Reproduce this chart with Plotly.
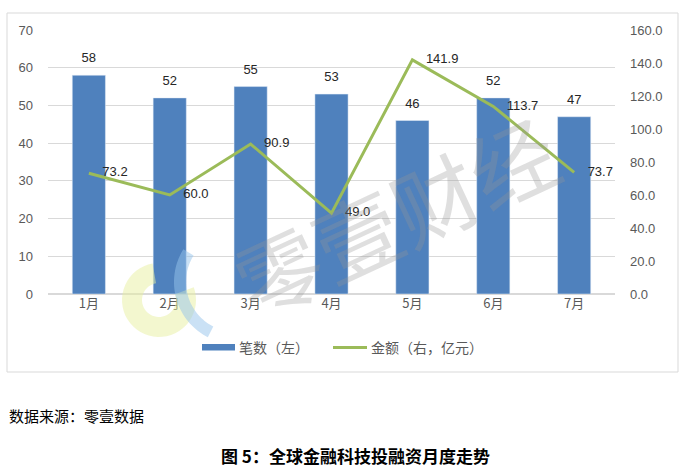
import math
import plotly.graph_objects as go

months = ["1月", "2月", "3月", "4月", "5月", "6月", "7月"]
counts = [58, 52, 55, 53, 46, 52, 47]
amounts = [73.2, 60.0, 90.9, 49.0, 141.9, 113.7, 73.7]
left_ticks = [0, 10, 20, 30, 40, 50, 60, 70]
right_ticks = [0, 20, 40, 60, 80, 100, 120, 140, 160]

FONT = "Liberation Sans, Noto Sans CJK SC, sans-serif"
CJK = "Noto Sans CJK SC"

# plot area geometry (pixels) used to place decorations in paper coords
L, R, T, B = 48, 615, 30, 294
W, H = R - L, B - T


def px(x):
    return (x - L) / W


def py(y):
    return (B - y) / H


def arc_band(cx, cy, r_in, r_out, a0, a1, n=40):
    pts = []
    for i in range(n + 1):
        a = math.radians(a0 + (a1 - a0) * i / n)
        pts.append((px(cx + r_out * math.cos(a)), py(cy + r_out * math.sin(a))))
    for i in range(n, -1, -1):
        a = math.radians(a0 + (a1 - a0) * i / n)
        pts.append((px(cx + r_in * math.cos(a)), py(cy + r_in * math.sin(a))))
    return "M " + " L ".join(f"{x:.4f} {y:.4f}" for x, y in pts) + " Z"


fig = go.Figure()
fig.add_trace(go.Bar(
    x=months, y=counts, name="笔数（左）",
    marker=dict(color="#4F81BD"), width=0.41,
    hoverinfo="x+y",
))
fig.add_trace(go.Scatter(
    x=months, y=counts, mode="markers+text", showlegend=False,
    marker=dict(size=14, color="rgba(0,0,0,0)"),
    text=[str(v) for v in counts], textposition="top center",
    textfont=dict(size=13, color="#262626", family=FONT),
    cliponaxis=False, hoverinfo="skip",
))
fig.add_trace(go.Scatter(
    x=months, y=amounts, name="金额（右，亿元）", yaxis="y2",
    mode="lines+markers+text", line=dict(color="#9BBB59", width=3),
    marker=dict(size=20, color="rgba(0,0,0,0)"),
    text=[f"{v:.1f}" for v in amounts], textposition="middle right",
    textfont=dict(size=13, color="#262626", family=FONT),
    cliponaxis=False,
))

# watermark
fig.add_annotation(text="零壹财经", xref="paper", yref="paper", x=px(395), y=py(215),
                   xanchor="center", yanchor="middle",
                   showarrow=False, textangle=-25,
                   font=dict(size=86, color="rgba(150,150,150,0.30)", family=CJK))
fig.add_shape(type="path", xref="paper", yref="paper",
              path=arc_band(159, 300, 17, 37, -20, 260),
              fillcolor="rgba(232,240,160,0.5)", line=dict(width=0), layer="above")
fig.add_shape(type="path", xref="paper", yref="paper",
              path=arc_band(236, 282, 50, 62, 117, 212),
              fillcolor="rgba(150,195,235,0.5)", line=dict(width=0), layer="above")

# chart border
fig.add_shape(type="rect", xref="paper", yref="paper",
              x0=px(7), x1=px(678), y0=py(372), y1=py(13),
              line=dict(color="#D9D9D9", width=1), fillcolor="rgba(0,0,0,0)", layer="below")

# legend (manual)
fig.add_shape(type="rect", xref="paper", yref="paper",
              x0=px(202), x1=px(235), y0=py(350.5), y1=py(344),
              fillcolor="#4F81BD", line=dict(width=0))
fig.add_shape(type="line", xref="paper", yref="paper",
              x0=px(333), x1=px(367), y0=py(347.5), y1=py(347.5),
              line=dict(color="#9BBB59", width=3))
fig.add_annotation(text="笔数（左）", xref="paper", yref="paper", x=px(237), y=py(347),
                   xanchor="left", yanchor="middle", showarrow=False,
                   font=dict(size=14, color="#595959", family=CJK))
fig.add_annotation(text="金额（右，亿元）", xref="paper", yref="paper", x=px(369), y=py(347),
                   xanchor="left", yanchor="middle", showarrow=False,
                   font=dict(size=14, color="#595959", family=CJK))

fig.add_annotation(text="数据来源：零壹数据", xref="paper", yref="paper",
                   x=px(7), y=py(415), xanchor="left", yanchor="middle", showarrow=False,
                   font=dict(size=15, color="#000000", family=CJK))
fig.add_annotation(text="<b>图 5：全球金融科技投融资月度走势</b>", xref="paper", yref="paper",
                   x=px(355), y=py(455), xanchor="center", yanchor="middle", showarrow=False,
                   font=dict(size=17, color="#000000", family=CJK))

fig.update_layout(
    width=689, height=470,
    margin=dict(l=L, r=689 - R, t=T, b=470 - B, autoexpand=False),
    paper_bgcolor="white", plot_bgcolor="white",
    font=dict(family=FONT, color="#595959", size=13),
    showlegend=False,
    xaxis=dict(showgrid=False, showline=False, ticks="", automargin=False,
               tickfont=dict(size=13, color="#595959", family=CJK)),
    yaxis=dict(range=[0, 70], tickvals=left_ticks, showgrid=True, gridcolor="#D9D9D9",
               zeroline=True, zerolinecolor="#D9D9D9", ticks="", ticklabelstandoff=14,
               automargin=False, tickfont=dict(size=13, color="#595959")),
    yaxis2=dict(range=[0, 160], tickvals=right_ticks, overlaying="y", side="right",
                showgrid=False, zeroline=False, tickformat=".1f", ticks="",
                ticklabelstandoff=14, automargin=False,
                tickfont=dict(size=13, color="#595959")),
)

fig.write_html("out.html", config={"displayModeBar": False},
               post_script="document.body.style.margin='0px';document.body.style.padding='0px';")
